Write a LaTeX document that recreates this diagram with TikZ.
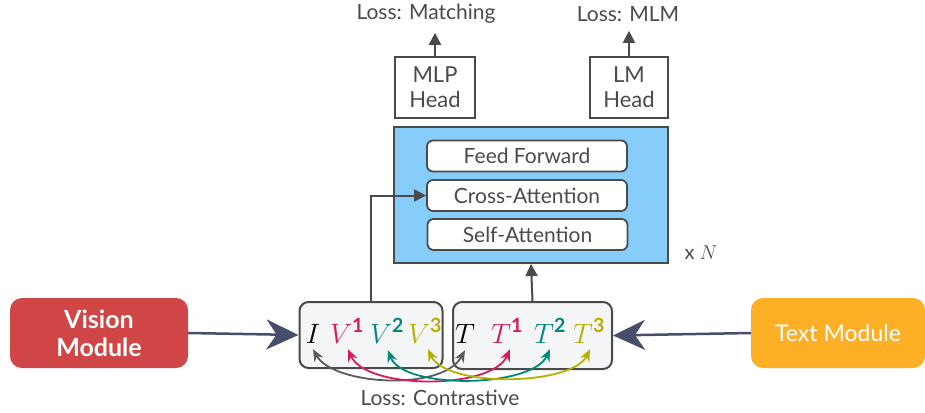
\documentclass[tikz,border=0pt]{standalone}
\usepackage{fix-cm}
\usepackage{fontspec}
\setmainfont{Lato}
\usetikzlibrary{arrows.meta,calc}
\definecolor{visred}{HTML}{D04545}
\definecolor{txtorange}{HTML}{FDB026}
\definecolor{navy}{HTML}{474D6B}
\definecolor{edge}{HTML}{4A4A4A}
\definecolor{tokfill}{HTML}{F4F5F7}
\definecolor{layerblue}{HTML}{87CDF9}
\definecolor{cI}{HTML}{5A5A5A}
\definecolor{cOne}{HTML}{D81B60}
\definecolor{cTwo}{HTML}{00897B}
\definecolor{cThree}{HTML}{B5B000}
\begin{document}
\begin{tikzpicture}[x=1pt,y=-1pt,
  module/.style={rounded corners=12pt, text=white, align=center, inner sep=0pt},
  tokbox/.style={draw=edge, line width=2pt, fill=tokfill, rounded corners=9pt, inner sep=0pt},
  layer/.style={draw=edge, line width=1.8pt, fill=white, rounded corners=6pt, minimum width=200pt, minimum height=31pt, inner sep=0pt, font=\fontsize{21}{23}\selectfont, text=edge},
  head/.style={draw=edge, line width=2pt, fill=white, align=center, inner sep=0pt, font=\fontsize{22}{25}\selectfont, text=edge},
  lbl/.style={font=\fontsize{21}{23}\selectfont, text=edge, inner sep=0pt},
  tok/.style={font=\fontsize{28}{30}\selectfont, inner sep=0pt, anchor=base},
  flow/.style={draw=edge, line width=2pt, -{Triangle[length=12pt,width=12pt]}},
  feed/.style={draw=navy, line width=2.5pt, -{Stealth[length=32pt,width=30pt,inset=10pt]}},
  pair/.style={line width=1.8pt, {Stealth[length=12pt,width=10pt]}-{Stealth[length=12pt,width=10pt]}}
]
\useasboundingbox (0,0) rectangle (925,412);

% input modules
\node[module, fill=visred, minimum width=178pt, minimum height=70pt, font=\fontsize{25}{28}\selectfont\bfseries] (vis) at (99,333) {Vision\\Module};
\node[module, fill=txtorange, minimum width=174pt, minimum height=70pt, font=\fontsize{23}{26}\selectfont] (txt) at (838,333) {Text Module};

% token containers
\node[tokbox, minimum width=143pt, minimum height=66pt] (lbox) at (371,335) {};
\node[tokbox, minimum width=159pt, minimum height=67pt] (rbox) at (532.5,335.5) {};

% tokens (placed on a common baseline)
\node[tok] (I)  at (313,343) {$I$};
\node[tok, text=cOne]   (V1) at (347,343) {$V^{\mathbf{1}}$};
\node[tok, text=cTwo]   (V2) at (387,343) {$V^{\mathbf{2}}$};
\node[tok, text=cThree] (V3) at (425,343) {$V^{\mathbf{3}}$};
\node[tok] (T)  at (465,343) {$T$};
\node[tok, text=cOne]   (T1) at (507,343) {$T^{\mathbf{1}}$};
\node[tok, text=cTwo]   (T2) at (550,343) {$T^{\mathbf{2}}$};
\node[tok, text=cThree] (T3) at (589,343) {$T^{\mathbf{3}}$};

% fusion layer stack
\node[draw=edge, line width=2pt, fill=layerblue, minimum width=274pt, minimum height=136pt, inner sep=0pt] (blk) at (531,195) {};
\node[layer] (ff) at (527,156) {Feed Forward};
\node[layer] (ca) at (527,195.5) {Cross-Attention};
\node[layer] (sa) at (527.5,234.5) {Self-Attention};
\node[font=\fontsize{20}{22}\selectfont, text=edge, inner sep=0pt] (xn) at (701,253) {x $N$};

% output heads
\node[head, minimum width=80pt, minimum height=61pt] (mlp) at (435,87.5) {MLP\\Head};
\node[head, minimum width=78pt, minimum height=61pt] (lm) at (629,87.5) {LM\\Head};
\node[lbl] (lmatch) at (426,14) {Loss: Matching};
\node[lbl] (lmlm) at (628,14) {Loss: MLM};
\node[lbl] (lcon) at (440,398) {Loss: Contrastive};

% connectors
\draw[feed] (vis.east) -- (lbox.west);
\draw[feed] (txt.west) -- (rbox.east);
\draw[flow] (lbox.north) |- (ca.west);
\draw[flow] (rbox.north) -- (blk.south);
\draw[flow] (mlp.north) -- ($(mlp.north |- lmatch.south)+(0,9)$);
\draw[flow] (lm.north) -- ($(lm.north |- lmlm.south)+(0,9)$);

% contrastive pairs, arrowheads just below each token
\draw[pair, draw=cI] ($(I.south)+(0,6)$) .. controls (333,385) and (442,392) .. ($(T.south)+(0,7)$);
\draw[pair, draw=cOne] ($(V1.south)+(1,6)$) .. controls (366,390) and (492,390) .. ($(T1.south)+(3,6)$);
\draw[pair, draw=cTwo] ($(V2.south)+(1,7)$) .. controls (403,390) and (532,388) .. ($(T2.south)+(0,6)$);
\draw[pair, draw=cThree] ($(V3.south)+(3,6)$) .. controls (446,388) and (572,386) .. ($(T3.south)+(1,6)$);
\end{tikzpicture}
\end{document}
